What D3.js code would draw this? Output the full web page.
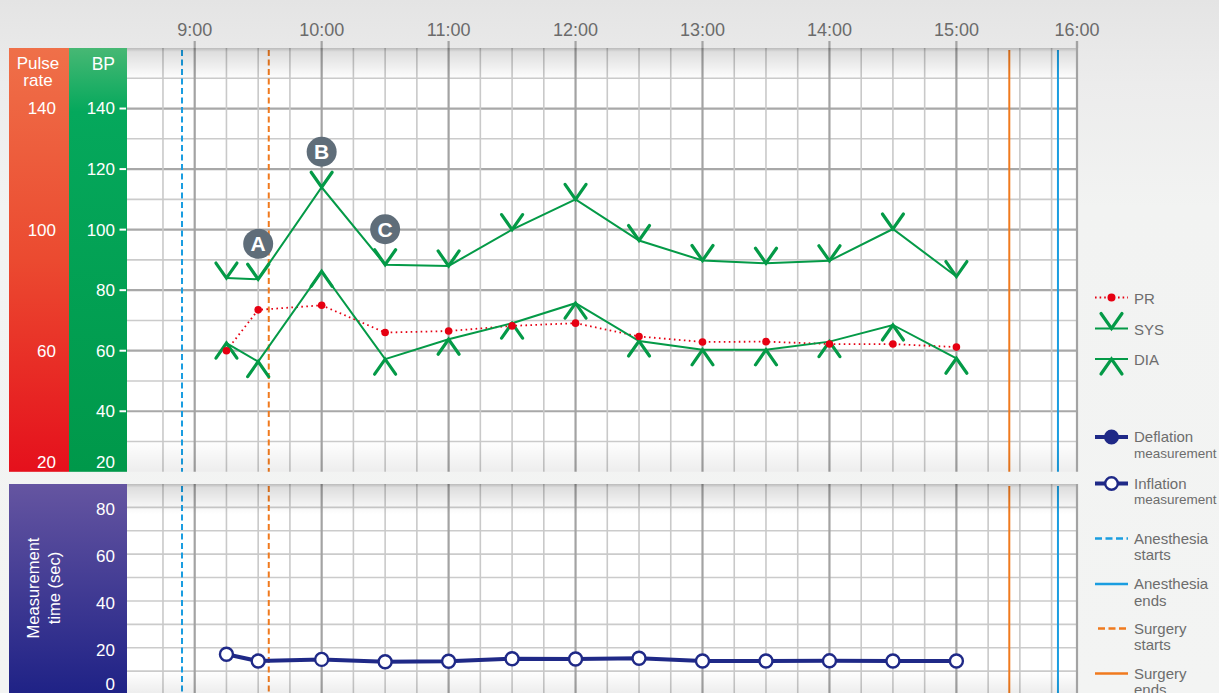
<!DOCTYPE html>
<html>
<head>
<meta charset="utf-8">
<script src="https://cdn.jsdelivr.net/npm/d3@7"></script>
<style>
  body { margin: 0; background: #f2f3f2; }
  svg { display: block; font-family: "Liberation Sans", Arial, sans-serif; }
</style>
</head>
<body>
<div class="container"></div>
<script>
// measurement times and readings
const times = ["9:15", "9:30", "10:00", "10:30", "11:00", "11:30", "12:00", "12:30", "13:00", "13:30", "14:00", "14:30", "15:00"];
const sysValues = [84, 83.6, 114, 88.4, 88, 100, 110, 96.4, 89.8, 88.9, 89.7, 100.2, 84.5];
const diaValues = [62.5, 56.4, 86.2, 57.2, 63.8, 69.1, 75.7, 63.2, 60.3, 60.3, 63, 68.5, 57.5];
const prValues = [60, 73.5, 75, 66, 66.5, 68.2, 69.1, 64.7, 62.9, 63, 62.2, 62.2, 61.2];
const measureSec = [17.2, 14.3, 15, 14, 14.2, 15.3, 15.2, 15.5, 14.3, 14.3, 14.4, 14.3, 14.3];

// annotations on SYS points
const notes = [{ label: "A", time: "9:30" }, { label: "B", time: "10:00" }, { label: "C", time: "10:30" }];

// events
const events = [
  { name: "Anesthesia starts", time: "8:54", color: "#1a9de0", dash: "6,3.5" },
  { name: "Surgery starts", time: "9:35", color: "#f07a1e", dash: "6,3.5" },
  { name: "Surgery ends", time: "15:25", color: "#f07a1e", dash: null },
  { name: "Anesthesia ends", time: "15:48", color: "#1a9de0", dash: null }
];

const hourLabels = ["9:00", "10:00", "11:00", "12:00", "13:00", "14:00", "15:00"];
const axisStart = "8:28", axisEnd = "15:57", axisEndLabel = "16:00";
const bpTicks = [140, 120, 100, 80, 60, 40];
const pulseTicks = [140, 100, 60];
const secTicks = [80, 60, 40, 20];

const toMin = s => { const p = s.split(":"); return +p[0] * 60 + +p[1]; };

const W = 1219, H = 693;
const plot = { left: 127, right: 1077 };
const top1 = 48, bot1 = 471.8, top2 = 484, bot2 = 694.5;

const svg = d3.select(".container").append("svg")
    .attr("width", W).attr("height", H);

const defs = svg.append("defs");
function grad(id, stops, x2, y2) {
  const g = defs.append("linearGradient").attr("id", id)
      .attr("x1", 0).attr("y1", 0).attr("x2", x2 || 0).attr("y2", y2 === undefined ? 1 : y2);
  stops.forEach(s => g.append("stop").attr("offset", s[0]).attr("stop-color", s[1]).attr("stop-opacity", s[2] === undefined ? 1 : s[2]));
}
grad("bg", [[0, "#e4e4e4"], [0.12, "#ececec"], [0.3, "#f2f3f2"], [1, "#f3f4f3"]]);
grad("pulse", [[0, "#ef7049"], [0.5, "#eb4a30"], [1, "#e5101c"]]);
grad("bp", [[0, "#47b874"], [0.15, "#05a85c"], [1, "#00984a"]]);
grad("sec", [[0, "#6555a1"], [1, "#1f2286"]]);
grad("shadeTop", [[0, "#000", 0.27], [0.12, "#000", 0.13], [1, "#000", 0]]);
grad("shadeBot", [[0, "#000", 0], [1, "#000", 0.07]]);

svg.append("rect").attr("width", W).attr("height", H).attr("fill", "url(#bg)");

const x = d3.scaleLinear().domain([toMin(axisStart), toMin(axisEnd)]).range([plot.left, plot.right]);
const y1 = d3.scaleLinear().domain([20, 160]).range([bot1, top1]);
const y2 = d3.scaleLinear().domain([0, 90]).range([bot2, top2]);

// side bands
svg.append("rect").attr("x", 9).attr("y", top1).attr("width", 60).attr("height", bot1 - top1).attr("fill", "url(#pulse)");
svg.append("rect").attr("x", 69).attr("y", top1).attr("width", plot.left - 69).attr("height", bot1 - top1).attr("fill", "url(#bp)");
svg.append("rect").attr("x", 9).attr("y", top2).attr("width", plot.left - 9).attr("height", H - top2).attr("fill", "url(#sec)");

// panels
svg.append("rect").attr("x", plot.left).attr("y", top1).attr("width", plot.right - plot.left).attr("height", bot1 - top1).attr("fill", "#fff");
svg.append("rect").attr("x", plot.left).attr("y", top2).attr("width", plot.right - plot.left).attr("height", H - top2).attr("fill", "#fff");

const quarterTicks = d3.range(toMin("8:45"), toMin("15:45") + 1, 15);
function vGrid(yTop, yBot) {
  const g = svg.append("g");
  g.selectAll("line").data(quarterTicks).join("line")
      .attr("x1", d => x(d)).attr("x2", d => x(d))
      .attr("y1", yTop).attr("y2", yBot)
      .attr("stroke", d => d % 60 === 0 ? "#a3a3a3" : "#c9c9c9")
      .attr("stroke-width", d => d % 60 === 0 ? 2.2 : 1.6);
}
// horizontal grid top
svg.append("g").selectAll("line").data(d3.range(30, 151, 10)).join("line")
    .attr("x1", plot.left).attr("x2", plot.right)
    .attr("y1", d => y1(d)).attr("y2", d => y1(d))
    .attr("stroke", d => d % 20 === 0 ? "#a8a8a8" : "#cbcbcb")
    .attr("stroke-width", d => d % 20 === 0 ? 2.2 : 1.6);
vGrid(top1, bot1);
// horizontal grid bottom
svg.append("g").selectAll("line").data(d3.range(10, 81, 10)).join("line")
    .attr("x1", plot.left).attr("x2", plot.right)
    .attr("y1", d => y2(d)).attr("y2", d => y2(d))
    .attr("stroke", "#cbcbcb").attr("stroke-width", 1.6);
vGrid(top2, H);

// event lines
events.forEach(e => {
  [[top1 + 2, bot1], [top2 + 2, H]].forEach(r => {
    svg.append("line")
        .attr("x1", x(toMin(e.time))).attr("x2", x(toMin(e.time)))
        .attr("y1", r[0]).attr("y2", r[1])
        .attr("stroke", e.color).attr("stroke-width", 2)
        .attr("stroke-dasharray", e.dash);
  });
});

// shading
svg.append("rect").attr("x", plot.left).attr("y", top1).attr("width", plot.right - plot.left).attr("height", 32).attr("fill", "url(#shadeTop)");
svg.append("rect").attr("x", plot.left).attr("y", bot1 - 32).attr("width", plot.right - plot.left).attr("height", 32).attr("fill", "url(#shadeBot)");
svg.append("rect").attr("x", plot.left).attr("y", top2).attr("width", plot.right - plot.left).attr("height", 30).attr("fill", "url(#shadeTop)");
svg.append("rect").attr("x", plot.left).attr("y", H - 22).attr("width", plot.right - plot.left).attr("height", 22).attr("fill", "url(#shadeBot)");

// right border + top time axis
svg.append("line").attr("x1", plot.right).attr("x2", plot.right).attr("y1", 41).attr("y2", bot1)
    .attr("stroke", "#a3a3a3").attr("stroke-width", 2.2);
svg.append("line").attr("x1", plot.right).attr("x2", plot.right).attr("y1", top2).attr("y2", H)
    .attr("stroke", "#a3a3a3").attr("stroke-width", 2.2);

const hourPos = hourLabels.map(h => ({ label: h, x: x(toMin(h)) }))
    .concat([{ label: axisEndLabel, x: x(toMin(axisEnd)) }]);
const xAxis = svg.append("g");
xAxis.selectAll("line").data(hourPos).join("line")
    .attr("x1", d => d.x).attr("x2", d => d.x).attr("y1", 41).attr("y2", top1)
    .attr("stroke", "#a3a3a3").attr("stroke-width", 2.2);
xAxis.selectAll("text").data(hourPos).join("text")
    .attr("x", d => d.x).attr("y", 35.5)
    .attr("text-anchor", "middle").attr("font-size", 18).attr("fill", "#6b6b6b")
    .text(d => d.label);

// left labels
function label(xp, yp, txt, size, anchor) {
  return svg.append("text").attr("x", xp).attr("y", yp).attr("dy", "0.35em")
      .attr("text-anchor", anchor || "end").attr("font-size", size).attr("fill", "#fff").text(txt);
}
label(38, 63.5, "Pulse", 17, "middle");
label(38, 80, "rate", 17, "middle");
label(115, 64, "BP", 17.5, "end");
pulseTicks.forEach(v => label(56, y1(v), v, 17, "end"));
label(56, 462, 20, 17, "end");
bpTicks.forEach(v => {
  label(115, y1(v), v, 17, "end");
  svg.append("line").attr("x1", 119.5).attr("x2", 126).attr("y1", y1(v)).attr("y2", y1(v))
      .attr("stroke", "#fff").attr("stroke-width", 2);
});
label(115, 462, 20, 17, "end");
secTicks.forEach(v => label(115, y2(v) + 2, v, 17, "end"));
label(115, 684, 0, 17, "end");
const vt = svg.append("text").attr("transform", "translate(44,588) rotate(-90)")
    .attr("text-anchor", "middle").attr("font-size", 16.5).attr("fill", "#fff");
vt.append("tspan").attr("x", 0).attr("y", -5).text("Measurement");
vt.append("tspan").attr("x", 0).attr("y", 16).text("time (sec)");

// data
const pts = times.map((t, i) => ({ t: toMin(t), sys: sysValues[i], dia: diaValues[i], pr: prValues[i], sec: measureSec[i] }));
const green = "#049a47", red = "#e60012", navy = "#1f2987";

function seriesLine(key, scale) {
  return d3.line().x(d => x(d.t)).y(d => scale(d[key]));
}
svg.append("path").datum(pts).attr("d", seriesLine("pr", y1))
    .attr("fill", "none").attr("stroke", red).attr("stroke-width", 1.8).attr("stroke-dasharray", "1.6,3.4");
svg.append("path").datum(pts).attr("d", seriesLine("sys", y1))
    .attr("fill", "none").attr("stroke", green).attr("stroke-width", 2);
svg.append("path").datum(pts).attr("d", seriesLine("dia", y1))
    .attr("fill", "none").attr("stroke", green).attr("stroke-width", 2);

const vMark = (cx, cy) => `M${cx - 10.5},${cy - 15}L${cx},${cy}L${cx + 10.5},${cy - 15}`;
const aMark = (cx, cy) => `M${cx - 10.5},${cy + 15}L${cx},${cy}L${cx + 10.5},${cy + 15}`;

svg.append("g").selectAll("path").data(pts).join("path")
    .attr("d", d => vMark(x(d.t), y1(d.sys)))
    .attr("fill", "none").attr("stroke", green).attr("stroke-width", 3.2).attr("stroke-linecap", "round");
svg.append("g").selectAll("path").data(pts).join("path")
    .attr("d", d => aMark(x(d.t), y1(d.dia)))
    .attr("fill", "none").attr("stroke", green).attr("stroke-width", 3.2).attr("stroke-linecap", "round");
svg.append("g").selectAll("circle").data(pts).join("circle")
    .attr("cx", d => x(d.t)).attr("cy", d => y1(d.pr)).attr("r", 3.8).attr("fill", red);

// annotations
const noteG = svg.append("g").selectAll("g").data(notes).join("g")
    .attr("transform", n => {
      const p = pts.find(d => d.t === toMin(n.time));
      return `translate(${x(p.t)},${y1(p.sys) - 35.5})`;
    });
noteG.append("circle").attr("r", 15).attr("fill", "#5f6d79");
noteG.append("text").attr("text-anchor", "middle").attr("dy", "0.36em")
    .attr("font-size", 21).attr("font-weight", "bold").attr("fill", "#fff").text(n => n.label);

// measurement time line
svg.append("path").datum(pts).attr("d", seriesLine("sec", y2))
    .attr("fill", "none").attr("stroke", navy).attr("stroke-width", 4);
svg.append("g").selectAll("circle").data(pts).join("circle")
    .attr("cx", d => x(d.t)).attr("cy", d => y2(d.sec)).attr("r", 6.5)
    .attr("fill", "#fff").attr("stroke", navy).attr("stroke-width", 2.4);

// legend
const lx1 = 1095, lx2 = 1128, lmid = 1111.5, tx = 1134;
const lg = svg.append("g");
function legText(yp, main, sub) {
  const t = lg.append("text").attr("x", tx).attr("y", yp).attr("dy", "0.35em")
      .attr("font-size", 15).attr("fill", "#6d6d6d");
  t.append("tspan").text(main);
  if (sub) t.append("tspan").attr("x", tx).attr("dy", sub[1]).attr("font-size", sub[2]).text(sub[0]);
}
lg.append("line").attr("x1", lx1).attr("x2", lx2).attr("y1", 297.5).attr("y2", 297.5)
    .attr("stroke", red).attr("stroke-width", 1.8).attr("stroke-dasharray", "1.6,3");
lg.append("circle").attr("cx", lmid).attr("cy", 297.5).attr("r", 4).attr("fill", red);
legText(298.5, "PR");

lg.append("line").attr("x1", lx1).attr("x2", lx2).attr("y1", 328.5).attr("y2", 328.5).attr("stroke", green).attr("stroke-width", 2.2);
lg.append("path").attr("d", vMark(lmid, 328.5)).attr("fill", "none").attr("stroke", green).attr("stroke-width", 3.2).attr("stroke-linecap", "round");
legText(330, "SYS");

lg.append("line").attr("x1", lx1).attr("x2", lx2).attr("y1", 359).attr("y2", 359).attr("stroke", green).attr("stroke-width", 2.2);
lg.append("path").attr("d", aMark(lmid, 359)).attr("fill", "none").attr("stroke", green).attr("stroke-width", 3.2).attr("stroke-linecap", "round");
legText(360, "DIA");

[[437, navy, "Deflation"], [483.5, "#fff", "Inflation"]].forEach(r => {
  lg.append("line").attr("x1", lx1).attr("x2", lx2).attr("y1", r[0]).attr("y2", r[0]).attr("stroke", navy).attr("stroke-width", 4);
  lg.append("circle").attr("cx", lmid).attr("cy", r[0]).attr("r", 6.3).attr("fill", r[1]).attr("stroke", navy).attr("stroke-width", 2.4);
  legText(r[0], r[2], ["measurement", "1.15em", 13.5]);
});

const legEvents = [[538.5, events[0]], [584, events[3]], [628.5, events[1]], [673.5, events[2]]];
legEvents.forEach(r => {
  const e = r[1];
  lg.append("line").attr("x1", e.dash ? lx1 + (e.color === "#f07a1e" ? 3 : 0) : lx1).attr("x2", lx2)
      .attr("y1", r[0]).attr("y2", r[0])
      .attr("stroke", e.color).attr("stroke-width", 2.4).attr("stroke-dasharray", e.dash ? "7,3.5" : null);
  const words = e.name.split(" ");
  const t = lg.append("text").attr("x", tx).attr("y", r[0]).attr("dy", "0.35em")
      .attr("font-size", 15).attr("fill", "#6d6d6d");
  t.append("tspan").text(words[0]);
  t.append("tspan").attr("x", tx).attr("dy", 16.5).text(words[1]);
});
</script>
</body>
</html>
